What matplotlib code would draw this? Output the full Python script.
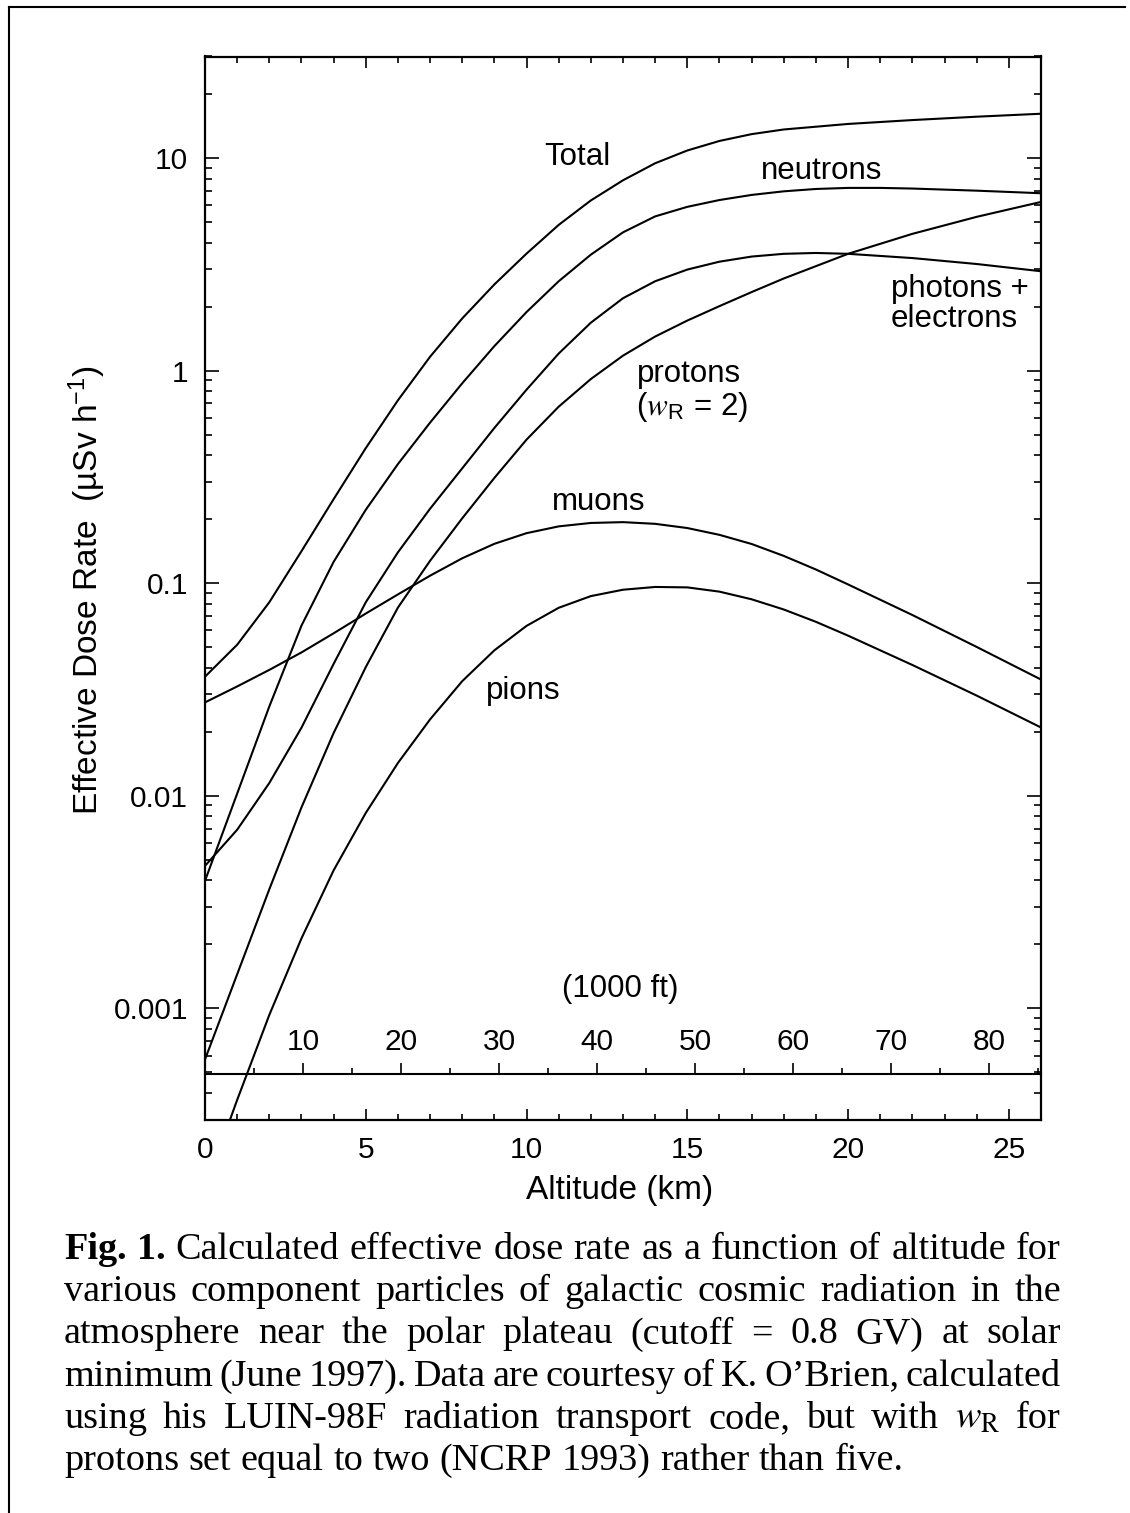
import numpy as np
import matplotlib
matplotlib.use('Agg')
import matplotlib.pyplot as plt
from matplotlib.lines import Line2D
from matplotlib.ticker import FixedLocator, LogLocator, MultipleLocator, NullFormatter, FuncFormatter

plt.rcParams['font.family'] = ['Liberation Sans', 'DejaVu Sans']
plt.rcParams['mathtext.fontset'] = 'custom'
plt.rcParams['mathtext.rm'] = 'Liberation Sans'
plt.rcParams['mathtext.it'] = 'Liberation Sans:italic'
plt.rcParams['mathtext.sf'] = 'Liberation Sans'

# altitude (km) vs effective dose rate (uSv/h)
total_km = [0, 1, 2, 3, 4, 5, 6, 7, 8, 9, 10, 11, 12, 13, 14, 15, 16, 17, 18, 20, 22, 24, 26]
total_dose = [0.0363, 0.0513, 0.0813, 0.1413, 0.2483, 0.4315, 0.7244, 1.161, 1.758, 2.541,
              3.548, 4.842, 6.31, 7.85, 9.44, 10.84, 12.02, 12.94, 13.61, 14.45, 15.07,
              15.63, 16.14]

neutron_km = [0, 1, 2, 3, 4, 5, 6, 7, 8, 9, 10, 11, 12, 13, 14, 15, 16, 17, 18, 19, 20,
              21, 22, 24, 26]
neutron_dose = [0.00398, 0.01023, 0.0263, 0.0631, 0.1259, 0.2213, 0.3631, 0.5689, 0.871,
                1.303, 1.884, 2.630, 3.508, 4.467, 5.309, 5.888, 6.339, 6.699, 6.966,
                7.145, 7.228, 7.228, 7.178, 7.015, 6.823]

photon_km = [0, 1, 2, 3, 4, 5, 6, 7, 8, 9, 10, 11, 12, 13, 14, 15, 16, 17, 18, 19, 20,
             22, 24, 26]
photon_dose = [0.004677, 0.006918, 0.01148, 0.02089, 0.04169, 0.08128, 0.1396, 0.2239,
               0.3467, 0.537, 0.8128, 1.202, 1.679, 2.188, 2.630, 2.985, 3.251, 3.436,
               3.540, 3.573, 3.540, 3.381, 3.170, 2.931]

proton_km = [0, 1, 2, 3, 4, 5, 6, 7, 8, 9, 10, 11, 12, 13, 14, 15, 16, 17, 18, 20, 22,
             24, 26]
proton_dose = [0.000575, 0.001445, 0.003631, 0.00881, 0.01972, 0.04027, 0.07674, 0.1274,
               0.2018, 0.3126, 0.4732, 0.6761, 0.912, 1.175, 1.445, 1.718, 2.009, 2.339,
               2.710, 3.540, 4.395, 5.284, 6.209]

muon_km = [0, 1, 2, 3, 4, 5, 6, 7, 8, 9, 10, 11, 12, 13, 14, 15, 16, 17, 18, 19, 20,
           22, 24, 26]
muon_dose = [0.02748, 0.03266, 0.03908, 0.04721, 0.05808, 0.07194, 0.08851, 0.1084,
             0.1309, 0.1531, 0.1718, 0.1849, 0.1919, 0.1936, 0.1901, 0.1816, 0.1687,
             0.1528, 0.1343, 0.1159, 0.0986, 0.0708, 0.0501, 0.0352]

pion_km = [0.78, 1, 2, 3, 4, 5, 6, 7, 8, 9, 10, 11, 12, 13, 14, 15, 16, 17, 18, 19, 20,
           22, 24, 26]
pion_dose = [0.0003, 0.0003707, 0.000931, 0.002133, 0.004457, 0.008299, 0.01426, 0.02286,
             0.03459, 0.04831, 0.06295, 0.07656, 0.0869, 0.09311, 0.09594, 0.0955, 0.0912,
             0.08395, 0.07516, 0.06577, 0.05662, 0.04121, 0.02958, 0.02094]

km_ticks = [0, 5, 10, 15, 20, 25]
dose_ticks = [0.001, 0.01, 0.1, 1, 10]
kft_ticks = [10, 20, 30, 40, 50, 60, 70, 80]
kft_minor = [5, 15, 25, 35, 45, 55, 65, 75, 85]

caption_lines = [
    ['Fig.', '1.', 'Calculated', 'effective', 'dose', 'rate', 'as', 'a', 'function', 'of',
     'altitude', 'for'],
    'various component particles of galactic cosmic radiation in the'.split(),
    'atmosphere near the polar plateau (cutoff = 0.8 GV) at solar'.split(),
    'minimum (June 1997). Data are courtesy of K. O\u2019Brien, calculated'.split(),
    ['using', 'his', 'LUIN-98F', 'radiation', 'transport', 'code,', 'but', 'with',
     r'$w_{\mathrm{R}}$', 'for'],
    'protons set equal to two (NCRP 1993) rather than five.'.split(),
]

W, H = 1130, 1513
fig = plt.figure(figsize=(W / 100, H / 100), dpi=100)
ax = fig.add_axes([205 / W, 1 - 1119.5 / H, 836 / W, 1063 / H])

for km, dose in [(total_km, total_dose), (neutron_km, neutron_dose),
                 (photon_km, photon_dose), (proton_km, proton_dose),
                 (muon_km, muon_dose), (pion_km, pion_dose)]:
    ax.plot(km, dose, color='black', lw=1.5, solid_joinstyle='round')

ax.set_yscale('log')
ax.set_xlim(0, 26)
ax.set_ylim(3e-4, 30)
ax.set_xticks(km_ticks)
ax.xaxis.set_minor_locator(MultipleLocator(1))
ax.yaxis.set_major_locator(FixedLocator(dose_ticks))
ax.yaxis.set_major_formatter(FuncFormatter(lambda v, p: f'{v:g}'))
ax.yaxis.set_minor_locator(LogLocator(base=10, subs=np.arange(2, 10), numticks=50))
ax.yaxis.set_minor_formatter(NullFormatter())
ax.tick_params(which='both', direction='in', top=True, right=True, labelsize=21.5,
               width=1.2, colors='black')
ax.tick_params(axis='x', which='major', length=8, pad=12)
ax.tick_params(axis='x', which='minor', length=4.5)
ax.tick_params(axis='y', which='major', length=10, pad=12)
ax.tick_params(axis='y', which='minor', length=5)
for s in ax.spines.values():
    s.set_linewidth(1.6)

# inner altitude scale in thousands of feet
secax = ax.secondary_xaxis(0.0426, functions=(lambda x: x / 0.3048, lambda x: x * 0.3048))
secax.set_alignment('top')
secax.set_xticks(kft_ticks)
secax.set_xticks(kft_minor, minor=True)
secax.tick_params(which='both', direction='out', labelsize=21.5, pad=5, width=1.2)
secax.tick_params(which='major', length=8)
secax.tick_params(which='minor', length=4.5)
secax.spines['top'].set_linewidth(1.5)
ax.text(12.93, 0.00123, '(1000 ft)', fontsize=22.5, ha='center', va='center')

# curve labels
lab = dict(fontsize=22.5, color='black')
ax.text(11.59, 10.1, 'Total', ha='center', va='center', **lab)
ax.text(19.17, 8.67, 'neutrons', ha='center', va='center', **lab)
ax.text(21.33, 2.06, 'photons +\nelectrons', ha='left', va='center', linespacing=1.0, **lab)
ax.text(13.42, 0.887, 'protons', ha='left', va='baseline', **lab)
ax.text(13.40, 0.62, r'($w_{\mathregular{R}}$ = 2)', ha='left', va='baseline',
        math_fontfamily='stix', **lab)
ax.text(12.25, 0.241, 'muons', ha='center', va='center', **lab)
ax.text(9.9, 0.031, 'pions', ha='center', va='center', **lab)

fig.text(620 / W, 1 - 1190 / H, 'Altitude (km)', fontsize=24, ha='center', va='center')
fig.text(87 / W, 1 - 590 / H, r'Effective Dose Rate  (µSv h$^{-1}$)', fontsize=24,
         rotation=90, ha='center', va='center')

# page frame
fig.add_artist(Line2D([9 / W, 9 / W], [0, 1 - 7 / H], color='black', lw=1.5))
fig.add_artist(Line2D([9 / W, 1125 / W], [1 - 7 / H, 1 - 7 / H], color='black', lw=1.5))

# justified caption
fig.canvas.draw()
renderer = fig.canvas.get_renderer()
cap_left, cap_right = 64, 1061
cap_size = 27.5
for i, words in enumerate(caption_lines):
    base = 1259 + 42.2 * i
    items = []
    for w in words:
        bold = i == 0 and w in ('Fig.', '1.')
        t = fig.text(0, 1 - base / H, w, fontsize=cap_size, family='Liberation Serif',
                     fontweight='bold' if bold else 'normal', ha='left', va='baseline',
                     math_fontfamily='stix')
        items.append(t)
    widths = [t.get_window_extent(renderer).width for t in items]
    if i < len(caption_lines) - 1:
        gap = (cap_right - cap_left - sum(widths)) / (len(items) - 1)
    else:
        gap = cap_size * 0.25 * 100 / 72
    x = cap_left
    for t, w in zip(items, widths):
        t.set_x(x / W)
        x += w + gap

fig.savefig('out.png', dpi=100)
